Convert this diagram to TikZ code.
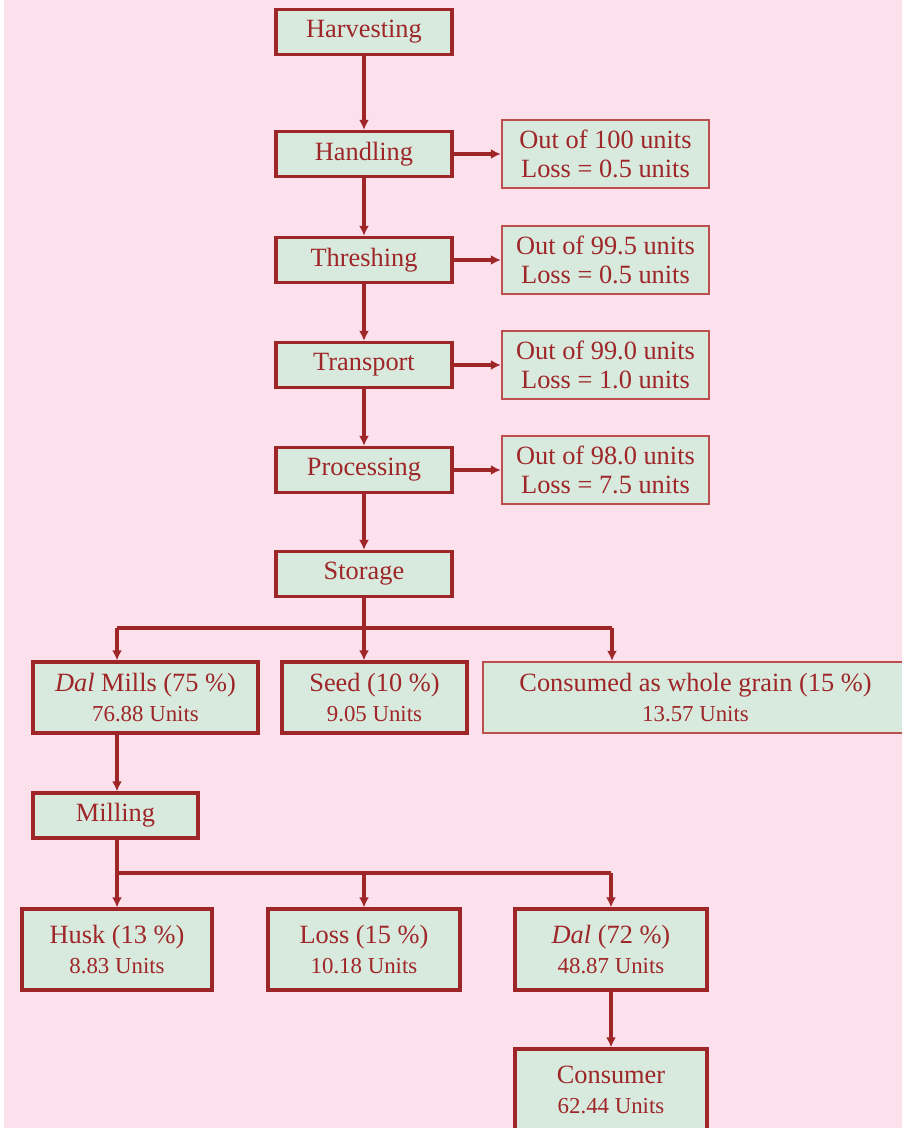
\documentclass[tikz,border=0pt]{standalone}
\usepackage{fontspec}
\setmainfont{Liberation Serif}
\usetikzlibrary{arrows.meta}

\definecolor{bgpink}{RGB}{252,224,235}
\definecolor{boxgreen}{RGB}{216,234,222}
\definecolor{darkred}{RGB}{158,38,40}
\definecolor{softred}{RGB}{188,78,78}

\tikzset{
  stage/.style={draw=darkred, fill=boxgreen, line width=0.065cm, text=darkred,
    minimum width=3.52cm, minimum height=0.90cm, inner sep=0pt,
    font=\fontsize{15}{17}\selectfont},
  lossbox/.style={draw=softred, fill=boxgreen, line width=0.045cm, text=darkred,
    minimum width=4.14cm, minimum height=1.36cm, inner sep=0pt, align=center,
    font=\fontsize{15}{16.5}\selectfont},
  share/.style={stage, minimum height=1.42cm, align=center},
  flow/.style={draw=darkred, line width=0.065cm, -{Latex[length=0.20cm,width=0.20cm]}},
  plain/.style={draw=darkred, line width=0.065cm},
}
\newcommand{\unitline}[1]{\\{\fontsize{13}{15}\selectfont #1 Units}}

\begin{document}
\begin{tikzpicture}
                \useasboundingbox (0,0) rectangle (18.040000,22.560000);
                \fill [white] (0,0) rectangle (18.040000,22.560000);%
                \fill [bgpink] (0.080000,0) rectangle (18.040000,22.560000);%

                % Marking stage boxes
                \node [stage] (harvest) at (7.280000,21.920000) {Harvesting};%
                \node [stage] (handle) at (7.280000,19.480000) {Handling};%
                \node [stage] (thresh) at (7.280000,17.360000) {Threshing};%
                \node [stage] (transp) at (7.280000,15.260000) {Transport};%
                \node [stage] (process) at (7.280000,13.160000) {Processing};%
                \node [stage] (store) at (7.280000,11.080000) {Storage};%

                % Marking loss boxes
                \node [lossbox] (loss1) at (12.110000,19.480000) {Out of 100 units\\Loss = 0.5 units};%
                \node [lossbox] (loss2) at (12.110000,17.360000) {Out of 99.5 units\\Loss = 0.5 units};%
                \node [lossbox] (loss3) at (12.110000,15.260000) {Out of 99.0 units\\Loss = 1.0 units};%
                \node [lossbox] (loss4) at (12.110000,13.160000) {Out of 98.0 units\\Loss = 7.5 units};%

                % Marking storage shares
                \node [share, minimum width=4.50cm] (mills) at (2.910000,8.610000) {\textit{Dal} Mills (75 \%)\unitline{76.88}};%
                \node [share, minimum width=3.70cm] (seed) at (7.490000,8.610000) {Seed (10 \%)\unitline{9.05}};%
                \node [share, minimum width=8.50cm, draw=softred, line width=0.045cm] (whole) at (13.910000,8.610000) {Consumed as whole grain (15 \%)\unitline{13.57}};%

                % Marking milling and its shares
                \node [stage, minimum width=3.30cm] (milling) at (2.310000,6.250000) {Milling};%
                \node [share, minimum width=3.80cm, minimum height=1.62cm] (husk) at (2.340000,3.570000) {Husk (13 \%)\unitline{8.83}};%
                \node [share, minimum width=3.84cm, minimum height=1.62cm] (millloss) at (7.280000,3.570000) {Loss (15 \%)\unitline{10.18}};%
                \node [share, minimum width=3.84cm, minimum height=1.62cm] (dal) at (12.220000,3.570000) {\textit{Dal} (72 \%)\unitline{48.87}};%
                \node [share, minimum width=3.84cm, minimum height=1.62cm] (consumer) at (12.220000,0.770000) {Consumer\unitline{62.44}};%

                % Drawing main chain
                \draw [flow] (harvest) -- (handle);%
                \draw [flow] (handle) -- (thresh);%
                \draw [flow] (thresh) -- (transp);%
                \draw [flow] (transp) -- (process);%
                \draw [flow] (process) -- (store);%

                % Drawing loss arrows
                \draw [flow] (handle) -- (loss1);%
                \draw [flow] (thresh) -- (loss2);%
                \draw [flow] (transp) -- (loss3);%
                \draw [flow] (process) -- (loss4);%

                % Drawing storage split
                \coordinate (split1) at (7.280000,10.000000);
                \coordinate (split1l) at (2.340000,10.000000);
                \coordinate (split1r) at (12.240000,10.000000);
                \draw [plain] (store) -- (split1);%
                \draw [plain] (split1l) -- (split1r);%
                \draw [flow] (split1) -- (split1 |- seed.north);%
                \draw [flow] (split1l) -- (split1l |- mills.north);%
                \draw [flow] (split1r) -- (split1r |- whole.north);%
                \draw [flow] (split1l |- mills.south) -- (split1l |- milling.north);%

                % Drawing milling split
                \coordinate (split2) at (2.340000,5.100000);
                \coordinate (split2r) at (12.220000,5.100000);
                \draw [plain] (split2 |- milling.south) -- (split2) -- (split2r);%
                \draw [flow] (split2) -- (husk);%
                \draw [flow] (split2 -| millloss) -- (millloss);%
                \draw [flow] (split2r) -- (dal);%
                \draw [flow] (dal) -- (consumer);%
\end{tikzpicture}
\end{document}
